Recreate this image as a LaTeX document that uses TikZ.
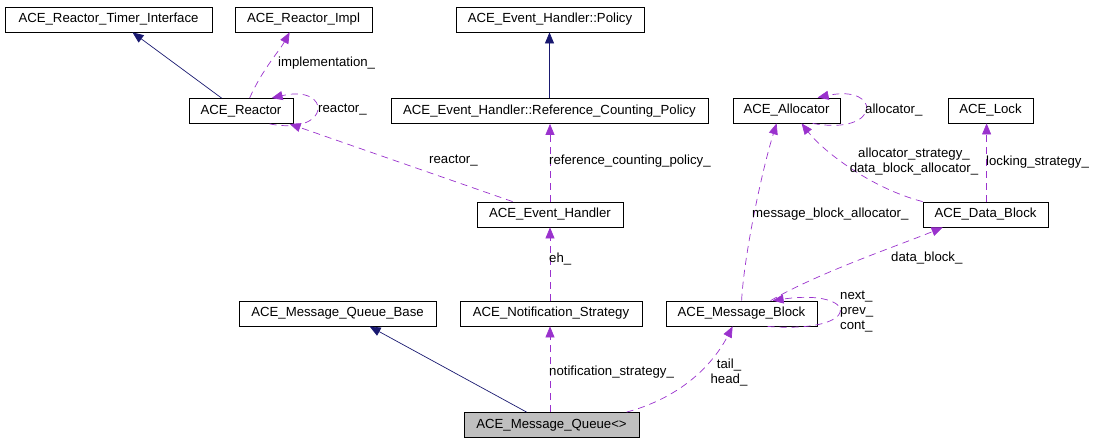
\documentclass[tikz,border=0pt]{standalone}
\usepackage{fontspec}
\setmainfont{Liberation Sans}
\usetikzlibrary{arrows.meta}

\definecolor{inhcol}{HTML}{191970}
\definecolor{usecol}{HTML}{9A32CD}
\definecolor{curcol}{HTML}{BFBFBF}

\begin{document}
\begin{tikzpicture}[x=1pt, y=-1pt, font=\fontsize{13.2}{15}\selectfont,
  cls/.style={draw, line width=0.8pt, inner sep=0pt, minimum height=25pt},
  inh/.style={draw=inhcol, line width=0.7pt, -{Triangle[length=11pt,width=9pt]}},
  use/.style={draw=usecol, line width=0.7pt, dash pattern=on 7pt off 5pt,
    -{Triangle[length=11pt,width=9pt]}},
  lbl/.style={anchor=west, inner sep=0pt}]
  \useasboundingbox (0,0) rectangle (1100,443);
  % Classes
  \node[cls, minimum width=207pt] (timer) at (108.5,19.5) {ACE\_Reactor\_Timer\_Interface};
  \node[cls, minimum width=137pt] (impl) at (303.5,19.5) {ACE\_Reactor\_Impl};
  \node[cls, minimum width=104pt] (reactor) at (241,111) {ACE\_Reactor};
  \node[cls, minimum width=188pt] (policy) at (550,19.5) {ACE\_Event\_Handler::Policy};
  \node[cls, minimum width=317pt] (refpol) at (549.5,111) {ACE\_Event\_Handler::Reference\_Counting\_Policy};
  \node[cls, minimum width=107pt] (alloc) at (786.5,110.5) {ACE\_Allocator};
  \node[cls, minimum width=85pt] (lock) at (990.5,110.5) {ACE\_Lock};
  \node[cls, minimum width=125pt] (datablk) at (985.5,214.5) {ACE\_Data\_Block};
  \node[cls, minimum width=146pt] (evh) at (550,214.5) {ACE\_Event\_Handler};
  \node[cls, minimum width=197pt] (mqbase) at (337.5,313.5) {ACE\_Message\_Queue\_Base};
  \node[cls, minimum width=182pt] (notif) at (551,313.5) {ACE\_Notification\_Strategy};
  \node[cls, minimum width=151pt] (mblock) at (741.5,313.5) {ACE\_Message\_Block};
  \node[cls, minimum width=175pt, fill=curcol] (mqueue) at (551.5,425) {ACE\_Message\_Queue<>};
  % Inheritance
  \draw[inh] ([xshift=33pt]reactor.north west) -- ([xshift=24pt]timer.south);
  \draw[inh] (refpol.north) -- (refpol.north |- policy.south);
  \draw[inh] ([xshift=63pt]mqueue.north west) -- ([xshift=131pt]mqbase.south west);
  % Usage
  \draw[use] ([xshift=61pt]reactor.north west) .. controls (262,70) and (280,50) .. ([xshift=55pt]impl.south west);
  \draw[use] ([xshift=81pt]reactor.south west) .. controls (332,136) and (332,84) .. ([xshift=83pt]reactor.north west);
  \draw[use] ([xshift=36pt]evh.north west) -- ([xshift=101pt]reactor.south west);
  \draw[use] (evh.north) -- (evh.north |- refpol.south);
  \draw[use] (evh.south |- notif.north) -- (evh.south);
  \draw[use] (evh.south |- mqueue.north) -- (evh.south |- notif.south);
  \draw[use] ([xshift=163pt]mqueue.north west) .. controls (690,395) and (718,355) .. ([xshift=67pt]mblock.south west);
  \draw[use] ([xshift=76pt]mblock.north west) .. controls (744,255) and (762,170) .. ([xshift=44pt]alloc.south west);
  \draw[use] ([xshift=105pt]mblock.north west) .. controls (820,272) and (900,245) .. ([xshift=20pt]datablk.south west);
  \draw[use] ([xshift=102pt]mblock.south west) .. controls (864,334) and (860,288) .. ([xshift=107pt]mblock.north west);
  \draw[use] (datablk.north west) .. controls (870,188) and (822,150) .. ([xshift=69pt]alloc.south west);
  \draw[use] ([xshift=64pt]datablk.north west) -- ([xshift=39pt]lock.south west);
  \draw[use] ([xshift=80pt]alloc.south west) .. controls (882,136) and (882,84) .. ([xshift=85pt]alloc.north west);
  % Labels
  \node[lbl] (limpl) at (278,63) {implementation\_};
  \node[lbl] (lreact1) at (318,110) {reactor\_};
  \node[lbl] (lreact2) at (429,161) {reactor\_};
  \node[lbl] (lrefpol) at (549,161) {reference\_counting\_policy\_};
  \node[lbl] (leh) at (549,259) {eh\_};
  \node[lbl] (lnotif) at (549,372) {notification\_strategy\_};
  \node[inner sep=0pt, align=center] (lth) at (729,373) {tail\_\\head\_};
  \node[lbl] (lmba) at (752,214) {message\_block\_allocator\_};
  \node[lbl] (ldb) at (891,258) {data\_block\_};
  \node[lbl, align=left] (lnpc) at (840,312) {next\_\\prev\_\\cont\_};
  \node[inner sep=0pt, align=center] (lalls) at (914,162) {allocator\_strategy\_\\data\_block\_allocator\_};
  \node[lbl] (llock) at (986,162) {locking\_strategy\_};
  \node[lbl] (lalloc) at (865,110) {allocator\_};
\end{tikzpicture}
\end{document}
